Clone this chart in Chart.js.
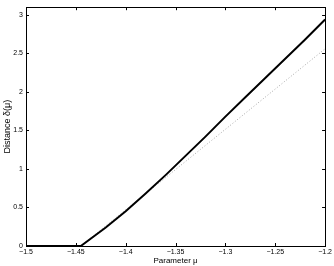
<!DOCTYPE html>
<html>
<head>
<meta charset="utf-8">
<script src="https://cdn.jsdelivr.net/npm/chart.js@4.4.1/dist/chart.umd.min.js"></script>
<style>
  html, body { margin: 0; padding: 0; background: #fff; }
  #wrap { width: 334px; height: 266px; }
</style>
</head>
<body>
<div id="wrap"><canvas id="distChart"></canvas></div>
<script>
// Data
const muValues   = [-1.5, -1.445, -1.42, -1.40, -1.38, -1.36, -1.34, -1.32, -1.30, -1.28, -1.26, -1.24, -1.22, -1.20];
const distValues = [0, 0, 0.24, 0.45, 0.68, 0.92, 1.17, 1.42, 1.68, 1.93, 2.18, 2.43, 2.68, 2.94];

// linear approximation (dotted)
const approxMu   = [-1.445, -1.20];
const approxDist = [0, 2.56];

const xTicks = [-1.5, -1.45, -1.4, -1.35, -1.3, -1.25, -1.2];
const xTickLabels = ['\u22121.5', '\u22121.45', '\u22121.4', '\u22121.35', '\u22121.3', '\u22121.25', '\u22121.2'];
const yTicks = [0, 0.5, 1, 1.5, 2, 2.5, 3];
const yTickLabels = ['0', '0.5', '1', '1.5', '2', '2.5', '3'];

const FONT = '"Liberation Sans", Arial, Helvetica, sans-serif';

// box + inward ticks, MATLAB style
const boxPlugin = {
    id: 'matlabBox',
    afterDatasetsDraw(chart) {
        const { ctx, chartArea: a, scales } = chart;
        ctx.save();
        ctx.strokeStyle = '#000';
        ctx.lineWidth = 1;
        ctx.beginPath();
        xTicks.forEach(v => {
            const px = Math.round(scales.x.getPixelForValue(v)) + 0.5;
            ctx.moveTo(px, a.bottom); ctx.lineTo(px, a.bottom - 3);
            ctx.moveTo(px, a.top);    ctx.lineTo(px, a.top + 3);
        });
        yTicks.forEach(v => {
            const py = Math.round(scales.y.getPixelForValue(v)) + 0.5;
            ctx.moveTo(a.left, py);  ctx.lineTo(a.left + 3, py);
            ctx.moveTo(a.right, py); ctx.lineTo(a.right - 3, py);
        });
        ctx.stroke();
        ctx.strokeRect(Math.round(a.left) + 0.5, Math.round(a.top) + 0.5,
                       Math.round(a.right - a.left), Math.round(a.bottom - a.top));
        ctx.restore();
    }
};

new Chart(document.getElementById('distChart'), {
    type: 'scatter',
    data: {
        datasets: [
            {
                label: 'approx',
                data: approxMu.map((m, i) => ({ x: m, y: approxDist[i] })),
                showLine: true,
                borderColor: '#a8a8a8',
                borderWidth: 1,
                borderDash: [1, 2],
                pointRadius: 0,
                order: 2
            },
            {
                label: 'distance',
                data: muValues.map((m, i) => ({ x: m, y: distValues[i] })),
                showLine: true,
                borderColor: '#000',
                borderWidth: 2,
                tension: 0,
                pointRadius: 0,
                order: 1
            }
        ]
    },
    options: {
        responsive: true,
        maintainAspectRatio: false,
        animation: false,
        layout: { padding: { left: 0, right: 5, top: 6, bottom: 0 } },
        plugins: {
            legend: { display: false },
            tooltip: { enabled: false }
        },
        scales: {
            x: {
                type: 'linear',
                min: -1.5,
                max: -1.2,
                afterBuildTicks: s => { s.ticks = xTicks.map(v => ({ value: v })); },
                afterFit: s => { s.height = 20; },
                grid: { display: false, drawTicks: false },
                border: { display: false },
                ticks: {
                    padding: 2,
                    color: '#000',
                    maxRotation: 0,
                    autoSkip: false,
                    font: { family: FONT, size: 7 },
                    callback: (v, i) => xTickLabels[i]
                },
                title: {
                    display: true,
                    text: 'Parameter \u03bc',
                    color: '#000',
                    font: { family: FONT, size: 8 },
                    padding: { top: 0, bottom: 0 }
                }
            },
            y: {
                type: 'linear',
                min: 0,
                max: 3.1,
                afterBuildTicks: s => { s.ticks = yTicks.map(v => ({ value: v })); },
                afterFit: s => { s.width = 26; },
                grid: { display: false, drawTicks: false },
                border: { display: false },
                ticks: {
                    padding: 3,
                    color: '#000',
                    autoSkip: false,
                    font: { family: FONT, size: 7 },
                    callback: (v, i) => yTickLabels[i]
                },
                title: {
                    display: true,
                    text: 'Distance \u03b4(\u03bc)',
                    color: '#000',
                    font: { family: FONT, size: 9 },
                    padding: { top: 2, bottom: 0 }
                }
            }
        }
    },
    plugins: [boxPlugin]
});
</script>
</body>
</html>
